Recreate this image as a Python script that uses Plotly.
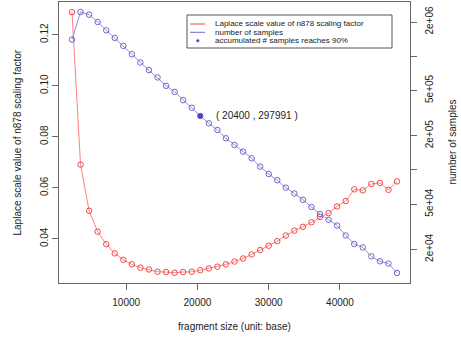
import math
import plotly.graph_objects as go

# fragment size (base) for each evaluated setting
fragment_size = [2400, 3600, 4800, 6000, 7200, 8400, 9600, 10800, 12000, 13200,
                 14400, 15600, 16800, 18000, 19200, 20400, 21600, 22800, 24000, 25200,
                 26400, 27600, 28800, 30000, 31200, 32400, 33600, 34800, 36000, 37200,
                 38400, 39600, 40800, 42000, 43200, 44400, 45600, 46800, 48000]

# Laplace scale value of the n878 scaling factor (left axis)
laplace_scale = [0.1288, 0.0691, 0.0510, 0.0428, 0.0379, 0.0343, 0.0318, 0.0300, 0.0287, 0.0280,
                 0.0271, 0.0270, 0.0267, 0.0270, 0.0271, 0.0277, 0.0284, 0.0291, 0.0300, 0.0311,
                 0.0323, 0.0339, 0.0356, 0.0373, 0.0391, 0.0413, 0.0432, 0.0447, 0.0465, 0.0486,
                 0.0501, 0.0527, 0.0548, 0.0594, 0.0590, 0.0615, 0.0619, 0.0592, 0.0625]

# number of samples (right axis, log scale)
n_samples = [1402000, 2447000, 2320000, 2000000, 1690000, 1448000, 1232000, 1042000, 881000, 754000,
             651000, 549000, 486000, 411000, 352000, 297991, 257000, 224400, 189800, 165700,
             144700, 126700, 106900, 92000, 81200, 69800, 62000, 54600, 47100, 40900,
             36400, 32400, 26500, 22300, 20800, 17360, 15700, 14980, 12400]

# point where the accumulated number of samples reaches 90%
idx_90 = 15

x_ticks = [10000, 20000, 30000, 40000]
left_ticks = [0.04, 0.06, 0.08, 0.10, 0.12]
right_ticks = [2e4, 5e4, 1e5, 2e5, 5e5, 1e6, 2e6]
right_tick_text = ["2e+04", "5e+04", "", "2e+05", "5e+05", "", "2e+06"]

W, H = 461, 339
ML, MR, MT, MB = 59, 51, 2, 56
PW, PH = W - ML - MR, H - MT - MB

RED_MK, RED_LN = "#f04848", "#ff8080"
BLUE_MK, BLUE_LN, BLUE_DOT = "#6c68c8", "#9490dc", "#4a46b4"
FONT = "Liberation Sans, Arial, Helvetica, sans-serif"
TXT = "#222222"
AX = "#666666"


def px(xp):
    return (xp - ML) / PW


def py(yp):
    return (H - MB - yp) / PH


fig = go.Figure()

fig.add_trace(go.Scatter(
    x=fragment_size, y=laplace_scale, mode="lines+markers",
    line=dict(color=RED_LN, width=1),
    marker=dict(symbol="circle-open", size=5.5, color=RED_MK, line=dict(width=1)),
    showlegend=False, yaxis="y"))

fig.add_trace(go.Scatter(
    x=fragment_size, y=n_samples, mode="lines+markers",
    line=dict(color=BLUE_LN, width=1),
    marker=dict(symbol="circle-open", size=5.5, color=BLUE_MK, line=dict(width=1)),
    showlegend=False, yaxis="y2"))

fig.add_trace(go.Scatter(
    x=[fragment_size[idx_90]], y=[n_samples[idx_90]], mode="markers",
    marker=dict(symbol="circle", size=5, color=BLUE_DOT),
    showlegend=False, yaxis="y2"))

annotations = [
    # annotation positions on a log axis are given in log10 units
    dict(x=fragment_size[idx_90], y=math.log10(n_samples[idx_90]), xref="x", yref="y2",
         text=f"( {fragment_size[idx_90]} , {n_samples[idx_90]} )",
         showarrow=False, xanchor="left", yanchor="middle", xshift=14,
         font=dict(size=10, color=TXT, family=FONT)),
    dict(x=0.5, y=0, xref="paper", yref="paper", text="fragment size (unit: base)",
         showarrow=False, xanchor="center", yanchor="middle", yshift=-43,
         font=dict(size=10, color=TXT, family=FONT)),
    dict(x=0, y=0.5, xref="paper", yref="paper",
         text="Laplace scale value of n878 scaling factor",
         showarrow=False, xanchor="center", yanchor="middle", xshift=-42, textangle=-90,
         font=dict(size=10, color=TXT, family=FONT)),
    dict(x=1, y=0.5, xref="paper", yref="paper", text="number of samples",
         showarrow=False, xanchor="center", yanchor="middle", xshift=42, textangle=-90,
         font=dict(size=10, color=TXT, family=FONT)),
]

# legend box drawn by hand so rows can sit close together
shapes = [
    dict(type="rect", xref="paper", yref="paper", x0=px(187), x1=px(392), y0=py(48), y1=py(15),
         line=dict(color="#555555", width=1), fillcolor="white", layer="above"),
    dict(type="line", xref="paper", yref="paper", x0=px(190), x1=px(205), y0=py(24), y1=py(24),
         line=dict(color=RED_MK, width=1), layer="above"),
    dict(type="line", xref="paper", yref="paper", x0=px(190), x1=px(205), y0=py(32.3), y1=py(32.3),
         line=dict(color=BLUE_MK, width=1), layer="above"),
    dict(type="circle", xref="paper", yref="paper", x0=px(196.5), x1=px(199.1), y0=py(42.1),
         y1=py(39.5), line=dict(color=BLUE_DOT, width=0.5), fillcolor=BLUE_DOT, layer="above"),
]
legend_rows = [("Laplace scale value of n878 scaling factor", 24),
               ("number of samples", 32.3),
               ("accumulated # samples reaches 90%", 40.8)]
for label, yy in legend_rows:
    annotations.append(dict(x=px(213), y=py(yy), xref="paper", yref="paper", text=label,
                            showarrow=False, xanchor="left", yanchor="middle",
                            font=dict(size=8, color=TXT, family=FONT)))

axis_common = dict(showgrid=False, zeroline=False, ticks="outside", ticklen=6,
                   tickwidth=1, tickcolor=AX, linecolor=AX, linewidth=1.2,
                   tickfont=dict(size=10, color=TXT, family=FONT))

fig.update_layout(
    width=W, height=H,
    margin=dict(l=ML, r=MR, t=MT, b=MB, autoexpand=False),
    paper_bgcolor="white", plot_bgcolor="white",
    showlegend=False,
    xaxis=dict(range=[576, 49824], tickvals=x_ticks, ticktext=[str(v) for v in x_ticks],
               showline=True, mirror=True, ticklabelstandoff=4, **axis_common),
    yaxis=dict(range=[0.0227, 0.1328], tickvals=left_ticks,
               ticktext=[f"{v:.2f}" for v in left_ticks], tickangle=-90,
               showline=True, mirror=False, **axis_common),
    yaxis2=dict(type="log", range=[4.005, 6.477], overlaying="y", side="right",
                tickvals=right_ticks, ticktext=right_tick_text, tickangle=-90,
                showline=True, ticklabelstandoff=4, **axis_common),
    annotations=annotations, shapes=shapes,
)

fig.write_html("out.html")
